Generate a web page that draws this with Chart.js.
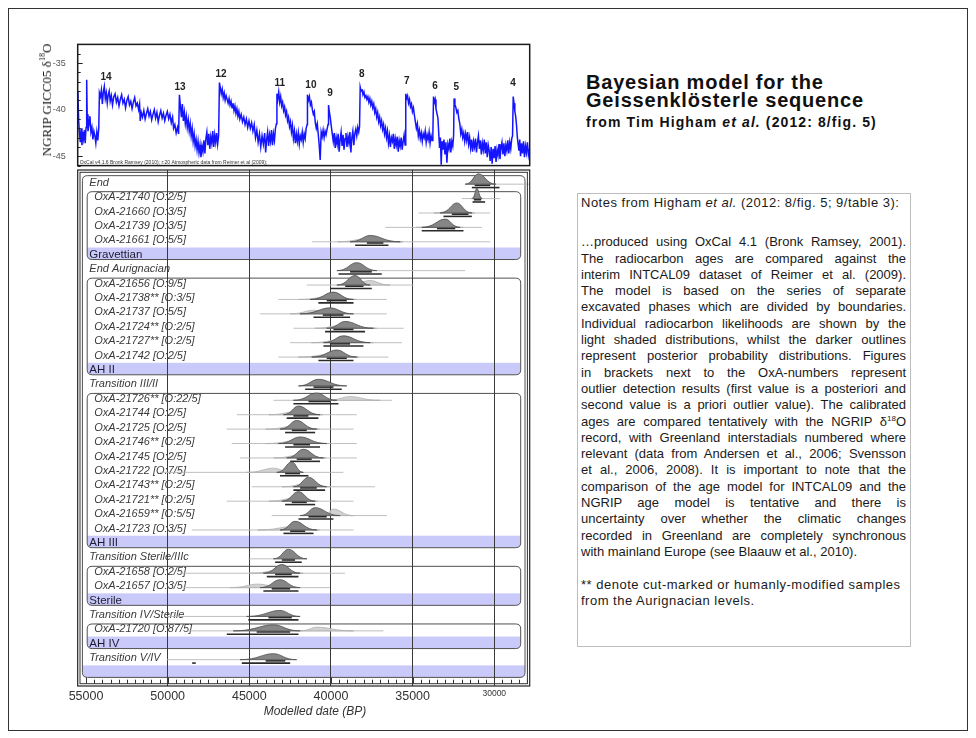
<!DOCTYPE html>
<html><head><meta charset="utf-8">
<script src="https://cdn.jsdelivr.net/npm/chart.js@4.4.1/dist/chart.umd.min.js"></script>
<style>
html,body{margin:0;padding:0;background:#fff;}
body{width:976px;height:738px;position:relative;overflow:hidden;font-family:"Liberation Sans",Arial,sans-serif;color:#111;}
#frame{position:absolute;left:8px;top:8px;width:960px;height:723px;border:1px solid #333;box-sizing:border-box;}
canvas{position:absolute;left:0;}
#cTop{top:35px;}
#cBot{top:165px;}
#ytitle{position:absolute;left:47px;top:100px;transform:translate(-50%,-50%) rotate(-90deg);font-family:"Liberation Serif","DejaVu Serif",serif;font-size:13px;white-space:nowrap;color:#111;}
#ytitle sup{font-size:8px;vertical-align:6px;line-height:0;}
.t{position:absolute;left:586px;font-weight:bold;white-space:nowrap;color:#111;}
#t1{top:72px;font-size:20px;line-height:20px;letter-spacing:0.8px;}
#t2{top:89.5px;font-size:20px;line-height:20px;letter-spacing:0.8px;}
#t3{top:115px;font-size:14px;line-height:14px;letter-spacing:1.1px;}
#notes{position:absolute;left:577px;top:193px;width:334px;height:454px;border:1px solid #bdbdbd;box-sizing:border-box;}
.n{position:absolute;left:581px;width:325px;font-size:13px;line-height:16.3px;white-space:nowrap;color:#1a1a1a;}
.j{text-align:justify;text-align-last:justify;}
.ls{letter-spacing:0.5px;}
.n sup{font-size:8px;vertical-align:5px;line-height:0;}
</style></head>
<body>
<div id="frame"></div>
<canvas id="cTop" width="540" height="140"></canvas>
<canvas id="cBot" width="540" height="565"></canvas>
<div id="ytitle">NGRIP GICC05 δ<sup>18</sup>O</div>
<div class="t" id="t1">Bayesian model for the</div>
<div class="t" id="t2">Geissenklösterle sequence</div>
<div class="t" id="t3">from Tim Higham <i>et al.</i> (2012: 8/fig. 5)</div>
<div id="notes"></div>
<script>
// ---------------- DATA ----------------
const X_MIN = 27830, X_MAX = 55510;
const xTickLabels = [55000, 50000, 45000, 40000, 35000, 30000];
const yTickLabels = [-35, -40, -45];

const ngripAge = [
55500,55450,55400,55350,55300,55250,55200,55150,55100,55050,
55000,54960,54930,54880,54820,54760,54700,54640,54580,54520,
54460,54400,54340,54280,54220,54180,54120,54060,54000,53940,
53880,53820,53760,53700,53640,53580,53520,53450,53380,53300,
53220,53140,53060,52980,52900,52820,52740,52660,52580,52500,
52420,52340,52260,52180,52100,52020,51940,51860,51780,51720,
51680,51620,51540,51460,51380,51300,51220,51140,51060,50980,
50900,50820,50740,50660,50580,50500,50420,50340,50260,50180,
50100,50020,49940,49860,49780,49700,49640,49560,49480,49400,
49330,49280,49220,49160,49100,49040,48980,48920,48860,48800,
48740,48680,48620,48560,48500,48440,48380,48320,48260,48200,
48140,48080,48020,47960,47900,47840,47780,47720,47660,47600,
47540,47480,47420,47360,47300,47240,47180,47120,47060,47000,
46940,46880,46830,46780,46720,46660,46600,46540,46480,46420,
46360,46300,46240,46180,46120,46060,46000,45940,45880,45820,
45760,45700,45640,45580,45500,45420,45340,45260,45180,45100,
45020,44940,44860,44780,44700,44620,44540,44460,44380,44300,
44220,44140,44060,44000,43940,43880,43820,43760,43700,43640,
43580,43520,43460,43400,43340,43310,43260,43200,43140,43080,
43020,42960,42900,42840,42780,42720,42660,42600,42540,42480,
42420,42360,42300,42240,42180,42120,42060,42000,41940,41880,
41820,41760,41700,41640,41580,41520,41460,41440,41380,41320,
41260,41200,41140,41080,41020,40960,40900,40840,40780,40720,
40660,40600,40540,40480,40420,40360,40300,40240,40180,40150,
40100,40040,39980,39920,39860,39800,39740,39680,39620,39560,
39500,39440,39380,39320,39260,39200,39140,39080,39020,38960,
38900,38840,38780,38720,38660,38600,38540,38480,38420,38360,
38300,38250,38210,38160,38100,38040,37980,37920,37860,37800,
37740,37680,37620,37560,37500,37440,37380,37320,37260,37200,
37140,37080,37020,36960,36900,36840,36780,36720,36660,36600,
36540,36480,36420,36360,36300,36240,36180,36120,36060,36000,
35940,35880,35820,35760,35700,35640,35580,35520,35460,35420,
35370,35310,35250,35190,35130,35070,35010,34950,34890,34830,
34770,34710,34650,34590,34530,34470,34410,34350,34290,34230,
34170,34110,34050,33990,33930,33870,33810,33760,33720,33670,
33620,33570,33510,33450,33400,33350,33300,33250,33200,33140,
33080,33020,32960,32900,32840,32780,32720,32660,32600,32540,
32490,32460,32410,32350,32290,32230,32170,32110,32050,31990,
31930,31870,31810,31750,31690,31630,31570,31510,31450,31390,
31330,31270,31210,31150,31090,31030,30970,30910,30850,30790,
30730,30670,30610,30550,30490,30430,30370,30310,30250,30190,
30130,30070,30010,29950,29890,29830,29770,29710,29650,29590,
29530,29470,29410,29350,29290,29230,29170,29110,29050,28990,
28930,28880,28840,28790,28740,28690,28640,28590,28540,28490,
28440,28390,28330,28270,28210,28150,28090,28030,27970,27910,
27860];
const ngripVal = [
-38.0,-41.2,-42.6,-43.5,-42.0,-43.8,-42.4,-43.1,-42.2,-43.6,
-41.9,-36.8,-40.5,-42.3,-41.6,-40.7,-42.4,-41.9,-43.2,-42.3,
-42.8,-43.6,-42.4,-43.3,-42.0,-38.2,-38.6,-37.9,-39.4,-38.1,
-37.5,-38.8,-38.2,-39.3,-38.4,-38.0,-39.1,-38.5,-39.5,-38.6,
-38.3,-39.2,-38.7,-39.6,-38.9,-38.4,-39.3,-38.9,-39.8,-39.0,
-38.6,-39.5,-39.1,-39.9,-39.2,-38.7,-39.6,-39.3,-40.0,-39.4,
-41.2,-40.3,-40.8,-40.1,-41.0,-40.4,-39.9,-40.7,-40.2,-41.1,
-40.5,-40.0,-40.9,-40.3,-41.3,-40.6,-40.1,-40.9,-40.4,-41.2,
-40.6,-40.2,-41.0,-40.5,-41.4,-40.8,-42.0,-41.6,-42.5,-41.9,
-42.6,-38.4,-39.6,-40.8,-39.4,-41.2,-40.3,-41.5,-40.7,-41.9,
-41.1,-42.3,-41.5,-42.8,-42.0,-43.4,-42.6,-43.9,-43.2,-44.3,
-43.4,-44.6,-43.8,-45.1,-43.9,-44.5,-43.3,-44.7,-43.1,-42.4,
-43.8,-42.6,-44.2,-42.9,-43.6,-42.3,-44.0,-42.7,-43.5,-42.5,
-43.7,-42.8,-37.1,-37.6,-38.3,-37.8,-38.7,-38.2,-39.0,-38.5,
-38.9,-39.3,-38.8,-39.5,-39.1,-39.8,-39.3,-40.1,-39.6,-40.4,
-39.9,-40.7,-40.2,-41.0,-40.5,-41.3,-40.8,-41.6,-41.0,-41.9,
-41.2,-42.0,-41.4,-42.3,-41.6,-43.0,-42.2,-43.5,-42.6,-44.0,
-42.8,-43.7,-42.5,-44.6,-43.2,-42.4,-43.9,-42.7,-43.4,-42.2,
-43.8,-42.6,-43.3,-42.0,-41.5,-38.3,-38.9,-38.1,-39.2,-38.6,
-39.6,-39.2,-40.1,-39.7,-40.6,-40.2,-41.2,-40.8,-41.8,-41.3,
-42.4,-41.7,-43.1,-42.3,-43.6,-42.6,-43.4,-42.5,-43.7,-42.8,
-43.2,-42.4,-43.5,-42.6,-43.1,-42.0,-41.6,-38.4,-39.0,-38.6,
-39.5,-39.2,-40.0,-40.5,-40.2,-41.4,-42.0,-41.5,-42.6,-43.8,
-45.4,-42.4,-42.9,-42.2,-43.0,-42.3,-42.7,-42.1,-41.6,-39.5,
-40.2,-40.9,-41.8,-42.6,-43.4,-42.5,-44.1,-43.0,-43.7,-42.6,
-44.5,-43.2,-42.4,-43.9,-42.7,-44.3,-43.1,-42.5,-44.0,-42.9,
-43.6,-42.4,-44.6,-43.0,-42.3,-43.8,-42.6,-42.1,-42.8,-41.9,
-42.4,-41.8,-37.6,-38.0,-37.8,-38.4,-38.1,-38.7,-38.5,-38.9,
-38.6,-39.2,-38.8,-39.5,-39.1,-39.8,-39.4,-40.3,-39.9,-40.8,
-40.3,-41.3,-40.8,-41.7,-41.2,-42.1,-41.6,-42.6,-42.0,-43.0,
-42.3,-43.6,-42.8,-44.0,-43.0,-43.4,-42.6,-44.2,-43.1,-43.8,
-42.9,-44.5,-43.3,-43.9,-43.0,-44.3,-43.4,-42.7,-43.8,-38.3,
-38.8,-38.5,-39.3,-38.9,-39.7,-39.4,-40.2,-39.8,-40.6,-41.3,
-42.0,-41.5,-42.8,-42.2,-43.1,-42.5,-43.4,-42.6,-43.0,-42.3,
-43.5,-42.7,-43.2,-42.4,-43.6,-42.8,-43.3,-42.6,-38.6,-39.2,
-38.9,-39.9,-40.4,-40.9,-42.5,-44.1,-43.0,-45.9,-43.4,-44.3,
-43.2,-44.8,-43.5,-45.7,-43.7,-44.2,-43.1,-44.6,-43.4,-43.9,
-42.8,-38.8,-39.4,-39.8,-40.3,-40.1,-41.0,-41.5,-42.6,-42.1,
-43.0,-42.5,-43.4,-42.6,-43.3,-42.4,-43.7,-43.0,-44.1,-43.2,
-44.5,-43.4,-44.0,-43.1,-44.6,-43.5,-42.8,-44.2,-43.3,-44.8,
-43.6,-44.3,-43.2,-44.7,-43.5,-45.1,-43.8,-44.4,-45.5,-44.0,
-45.8,-44.2,-45.2,-43.9,-45.6,-44.3,-44.9,-43.7,-45.3,-44.1,
-43.5,-44.8,-43.6,-45.0,-43.8,-44.4,-43.3,-44.7,-43.5,-44.2,
-43.1,-42.8,-38.6,-39.3,-40.2,-40.7,-41.6,-42.9,-43.7,-44.4,
-43.2,-45.0,-43.6,-44.7,-43.4,-45.1,-43.9,-44.6,-43.5,-44.8,
-44.2];

const isNum = ['14','13','12','11','10','9','8','7','6','5','4'];
const isAge = [53775,49240,46730,43130,41230,40050,38110,35350,33635,32330,28855];
const isVal = [-36.5,-37.6,-36.25,-37.2,-37.4,-38.2,-36.25,-37.0,-37.5,-37.6,-37.2];

const rowLabels = ['End','OxA-21740 [O:2/5]','OxA-21660 [O:3/5]','OxA-21739 [O:3/5]','OxA-21661 [O:5/5]','Gravettian',
'End Aurignacian','OxA-21656 [O:9/5]','OxA-21738** [O:3/5]','OxA-21737 [O:5/5]','OxA-21724** [O:2/5]','OxA-21727** [O:2/5]','OxA-21742 [O:2/5]','AH II',
'Transition III/II','OxA-21726** [O:22/5]','OxA-21744 [O:2/5]','OxA-21725 [O:2/5]','OxA-21746** [O:2/5]','OxA-21745 [O:2/5]','OxA-21722 [O:7/5]','OxA-21743** [O:2/5]','OxA-21721** [O:2/5]','OxA-21659** [O:5/5]','OxA-21723 [O:3/5]','AH III',
'Transition Sterile/IIIc','OxA-21658 [O:2/5]','OxA-21657 [O:3/5]','Sterile',
'Transition IV/Sterile','OxA-21720 [O:87/5]','AH IV',
'Transition V/IV',''];
// b = boundary, d = date, p = phase
const rowTypes = ['b','d','d','d','d','p','b','d','d','d','d','d','d','p','b','d','d','d','d','d','d','d','d','d','d','p','b','d','d','p','b','d','p','b','p'];

const postLo   = [31780,31330,33310,34440,38830,null,39640,39640,41280,41890,40260,40460,41180,null,41990,42300,42910,43120,43220,42710,43320,42300,43010,41890,43120,null,43520,44140,44340,null,45160,45980,null,45570,null];
const postPeak = [30970,31068,32290,33000,37600,null,38420,38520,39850,40050,39130,39240,39640,null,40770,40870,41990,42090,41890,41690,42400,41380,41990,40970,42200,null,42610,43010,43120,null,43120,43520,null,43520,null];
const postHi   = [29900,30760,31370,32090,35760,null,37190,37600,38620,38620,37400,37600,38420,null,39030,39640,40670,40870,40260,40460,41690,40260,40970,39440,40870,null,41480,41890,41890,null,41890,41890,null,42100,null];

const likLo   = [null,31450,33700,34800,39600,null,null,39050,42000,42500,41000,41200,42000,null,null,40260,43800,44000,44000,43500,45160,43000,43800,40460,44500,null,null,45000,46180,null,null,41890,null,null,null];
const likPeak = [null,31068,32290,33000,37700,null,null,37600,39900,41070,39200,39300,39800,null,null,38830,42000,42100,41900,41700,43520,41300,42000,39850,42300,null,null,43000,44500,null,null,40870,null,null,null];
const likHi   = [null,30650,31200,31900,35600,null,null,36380,38400,39200,37200,37400,38300,null,null,36990,40500,40700,40100,40300,42300,40000,40800,38620,40700,null,null,41700,42700,null,null,38620,null,null,null];

const tailLo = [31780,31990,34640,36680,41170,null,37190,41480,43220,44340,42300,42500,43220,null,null,43520,45770,46380,46080,45570,50470,44850,46380,43630,48530,null,45060,49240,49040,null,50060,48830,null,50060,null];
const tailHi = [27830,29640,30250,30760,30250,null,31780,34950,36580,36580,35550,35660,36480,null,null,36270,38420,38620,38420,38420,39240,37300,38620,36580,38620,null,41480,39140,40050,null,41890,36790,null,45570,null];

const range95Lo = [31370,31330,33110,34440,38520,null,39540,40050,40770,41070,40360,40460,40770,null,41580,42300,42710,42810,42810,42500,43120,42300,42810,41990,42910,null,43420,43930,44140,null,45060,46380,null,45460,null];
const range95Hi = [29680,30560,31375,31885,36480,null,36890,37500,38620,38830,37910,38010,38620,null,39340,39540,40770,40970,40670,40670,41380,40360,40970,39850,41070,null,41790,41990,41990,null,41990,41990,null,42500,null];
const range68Lo = [31200,31250,32600,33510,37800,null,38830,39130,40260,40500,39850,40050,40260,null,41070,41380,42300,42400,42300,42100,42810,41890,42400,41380,42500,null,43010,43420,43630,null,43830,44550,null,44000,null];
const range68Hi = [30250,30800,31580,32390,36790,null,37500,38010,39030,39240,38620,38830,39030,null,39850,40050,41380,41480,41280,41180,41890,40870,41480,40260,41580,null,42200,42400,42500,null,42400,42500,null,42800,null];
const extraRow = [33], extraLo = [48500], extraHi = [48280];

const notesHead = 'Notes from Higham <i>et al.</i> (2012: 8/fig. 5; 9/table 3):';
const notesLines = [
'…produced using OxCal 4.1 (Bronk Ramsey, 2001).',
'The radiocarbon ages are compared against the',
'interim INTCAL09 dataset of Reimer et al. (2009).',
'The model is based on the series of separate',
'excavated phases which are divided by boundaries.',
'Individual radiocarbon likelihoods are shown by the',
'light shaded distributions, whilst the darker outlines',
'represent posterior probability distributions. Figures',
'in brackets next to the OxA-numbers represent',
'outlier detection results (first value is a posteriori and',
'second value is a priori outlier value). The calibrated',
'ages are compared tentatively with the NGRIP δ<sup>18</sup>O',
'record, with Greenland interstadials numbered where',
'relevant (data from Andersen et al., 2006; Svensson',
'et al., 2006, 2008). It is important to note that the',
'comparison of the age model for INTCAL09 and the',
'NGRIP age model is tentative and there is',
'uncertainty over whether the climatic changes',
'recorded in Greenland are completely synchronous',
'with mainland Europe (see Blaauw et al., 2010).'];
const notesFoot = ['** denote cut-marked or humanly-modified samples','from the Aurignacian levels.'];

// ---------------- NOTES TEXT ----------------
(function(){
  const host = document.body;
  function add(html, top, cls){ const d=document.createElement('div'); d.className='n '+cls; d.style.top=top+'px'; d.innerHTML=html; host.appendChild(d); }
  add(notesHead, 195.3, 'ls');
  notesLines.forEach((l,i)=> add(l, 234.2 + i*16.3, i<notesLines.length-1 ? 'j' : ''));
  notesFoot.forEach((l,i)=> add(l, 576.8 + i*16.3, 'ls'));
})();

const FONT = '"Liberation Sans", Arial, sans-serif';

// ---------------- TOP CHART (NGRIP) ----------------
const topPlugin = {
  id:'topDeco',
  afterDraw(chart){
    const {ctx, chartArea:a, scales:{x,y}} = chart;
    ctx.save();
    ctx.strokeStyle='#222'; ctx.lineWidth=1;
    y.ticks.forEach(t=>{
      const py = Math.round(y.getPixelForValue(t.value))+0.5;
      const len = yTickLabels.includes(t.value) ? 5 : 3;
      ctx.beginPath(); ctx.moveTo(a.left, py); ctx.lineTo(a.left+len, py); ctx.stroke();
    });
    ctx.strokeStyle='#1a1a1a'; ctx.lineWidth=1.5;
    ctx.strokeRect(a.left, a.top, a.width, a.height);
    ctx.fillStyle='#222'; ctx.font='bold 10px '+FONT; ctx.textAlign='center'; ctx.textBaseline='middle';
    isNum.forEach((n,i)=> ctx.fillText(n, x.getPixelForValue(isAge[i]), y.getPixelForValue(isVal[i])));
    ctx.font='5px '+FONT; ctx.textAlign='left'; ctx.textBaseline='alphabetic'; ctx.fillStyle='#333';
    ctx.fillText('OxCal v4.1.6 Bronk Ramsey (2010); r:20 Atmospheric data from Reimer et al (2009);', a.left+2, a.bottom-1.5);
    ctx.restore();
  }
};

new Chart(document.getElementById('cTop'), {
  type:'line',
  data:{datasets:[{data: ngripAge.map((a,i)=>({x:a, y:ngripVal[i]})), borderColor:'#1414ff', borderWidth:1.5, pointRadius:0, tension:0, fill:false}]},
  options:{
    responsive:false, animation:false, events:[],
    plugins:{legend:{display:false}, tooltip:{enabled:false}},
    layout:{padding:{top:8, right:10.3, bottom:7, left:0}},
    scales:{
      x:{type:'linear', min:X_MIN, max:X_MAX, reverse:true, display:false},
      y:{type:'linear', min:-46, max:-33, afterFit:s=>{s.width=77.7;},
         grid:{display:false}, border:{display:false},
         ticks:{stepSize:1, autoSkip:false, padding:4, color:'#555', font:{size:9, family:FONT},
                callback:v=> yTickLabels.includes(v) ? String(v) : ''}}
    }
  },
  plugins:[topPlugin]
});

// ---------------- BOTTOM CHART (OxCal model) ----------------
const BAND = 'rgb(202,202,250)';
function roundPath(ctx,l,t,r,b,rad){
  ctx.beginPath();
  ctx.moveTo(l+rad,t); ctx.lineTo(r-rad,t); ctx.quadraticCurveTo(r,t,r,t+rad);
  ctx.lineTo(r,b-rad); ctx.quadraticCurveTo(r,b,r-rad,b);
  ctx.lineTo(l+rad,b); ctx.quadraticCurveTo(l,b,l,b-rad);
  ctx.lineTo(l,t+rad); ctx.quadraticCurveTo(l,t,l+rad,t); ctx.closePath();
}
function drawBox(ctx,l,r,t,b,bandTop){
  ctx.save();
  roundPath(ctx,l,t,r,b,5);
  ctx.clip();
  ctx.fillStyle=BAND; ctx.fillRect(l,bandTop,r-l,b-bandTop);
  ctx.restore();
  roundPath(ctx,l,t,r,b,5);
  ctx.strokeStyle='#505050'; ctx.lineWidth=1; ctx.stroke();
}
function hump(ctx, xl, xp, xr, yb, h, fill, stroke){
  const dl=xp-xl, dr=xr-xp;
  ctx.beginPath();
  ctx.moveTo(xl, yb);
  ctx.bezierCurveTo(xl+dl*0.55, yb, xp-dl*0.35, yb-h, xp, yb-h);
  ctx.bezierCurveTo(xp+dr*0.35, yb-h, xr-dr*0.55, yb, xr, yb);
  ctx.closePath();
  ctx.fillStyle=fill; ctx.fill();
  ctx.strokeStyle=stroke; ctx.lineWidth=0.8; ctx.stroke();
}
function clamp(v,a,b){return Math.max(a,Math.min(b,v));}

const oxcalPlugin = {
  id:'oxcal',
  beforeDraw(chart){
    const {ctx, chartArea:a, scales:{y}} = chart;
    const last = rowTypes.length-1;
    ctx.save();
    drawBox(ctx, a.left+4.7, a.right-4.7, y.getPixelForValue(0)-6, y.getPixelForValue(last)+5.8, y.getPixelForValue(last)-6.2);
    rowTypes.forEach((tp,p)=>{
      if (tp!=='p' || p===last) return;
      let s=p; while (s>0 && rowTypes[s-1]==='d') s--;
      drawBox(ctx, a.left+9.5, a.right-9, y.getPixelForValue(s)-4.4, y.getPixelForValue(p)+5.8, y.getPixelForValue(p)-6.2);
    });
    ctx.textBaseline='middle'; ctx.textAlign='left';
    rowLabels.forEach((lab,i)=>{
      const tp=rowTypes[i], yy=y.getPixelForValue(i)+1;
      if (tp==='p'){ ctx.font='11.5px '+FONT; ctx.fillStyle='#1c1c30'; ctx.fillText(lab, a.left+11.6, yy); }
      else if (tp==='b'){ ctx.font='italic 11px '+FONT; ctx.fillStyle='#3a3a3a'; ctx.fillText(lab, a.left+11.6, yy); }
      else { ctx.font='italic 11px '+FONT; ctx.fillStyle='#3a3a3a'; ctx.fillText(lab, a.left+16.6, yy); }
    });
    ctx.restore();
  },
  afterDatasetsDraw(chart){
    const {ctx, scales:{x,y}} = chart;
    ctx.save();
    rowTypes.forEach((tp,i)=>{
      if (postPeak[i]==null) return;
      const c=y.getPixelForValue(i), yb=c+2.5;
      if (tailLo[i]!=null){
        ctx.strokeStyle='#b8b8b8'; ctx.lineWidth=0.9;
        ctx.beginPath(); ctx.moveTo(x.getPixelForValue(tailLo[i]), yb); ctx.lineTo(x.getPixelForValue(tailHi[i]), yb); ctx.stroke();
      }
      if (likLo[i]!=null){
        const h=clamp(12000/(likLo[i]-likHi[i]),3.5,7);
        hump(ctx, x.getPixelForValue(likLo[i]), x.getPixelForValue(likPeak[i]), x.getPixelForValue(likHi[i]), yb, h, 'rgba(205,205,205,0.9)', '#b0b0b0');
      }
      const hp=clamp(19500/(postLo[i]-postHi[i]),6,10.5);
      hump(ctx, x.getPixelForValue(postLo[i]), x.getPixelForValue(postPeak[i]), x.getPixelForValue(postHi[i]), yb, hp, '#868686', '#4e4e4e');
      ctx.strokeStyle='#2a2a2a'; ctx.lineWidth=1.6;
      ctx.beginPath(); ctx.moveTo(x.getPixelForValue(range68Lo[i]), yb+1.2); ctx.lineTo(x.getPixelForValue(range68Hi[i]), yb+1.2); ctx.stroke();
      ctx.beginPath(); ctx.moveTo(x.getPixelForValue(range95Lo[i]), yb+3.4); ctx.lineTo(x.getPixelForValue(range95Hi[i]), yb+3.4); ctx.stroke();
    });
    extraRow.forEach((r,k)=>{
      const yb=y.getPixelForValue(r)+2.5;
      ctx.strokeStyle='#2a2a2a'; ctx.lineWidth=1.6;
      ctx.beginPath(); ctx.moveTo(x.getPixelForValue(extraLo[k]), yb+3.4); ctx.lineTo(x.getPixelForValue(extraHi[k]), yb+3.4); ctx.stroke();
    });
    ctx.restore();
  },
  afterDraw(chart){
    const {ctx, chartArea:a, scales:{x}} = chart;
    ctx.save();
    ctx.strokeStyle='#222'; ctx.lineWidth=1.2;
    ctx.strokeRect(a.left, a.top, a.width, a.height);
    ctx.lineWidth=1; ctx.strokeStyle='#333';
    ctx.strokeRect(a.left+2.3, a.top+2.3, a.width-4.6, a.height-4.6);
    x.ticks.forEach(t=>{
      const px=Math.round(x.getPixelForValue(t.value))+0.5;
      const len = xTickLabels.includes(t.value) ? 6 : 4;
      ctx.beginPath(); ctx.moveTo(px, a.bottom-2.3); ctx.lineTo(px, a.bottom-2.3-len); ctx.stroke();
    });
    ctx.fillStyle='#333'; ctx.font='italic 12px '+FONT; ctx.textAlign='center'; ctx.textBaseline='middle';
    ctx.fillText('Modelled date (BP)', 315, a.bottom+26);
    ctx.restore();
  }
};

new Chart(document.getElementById('cBot'), {
  type:'scatter',
  data:{datasets:[{data: postPeak.map((v,i)=> v==null ? null : ({x:v, y:i})).filter(d=>d), pointRadius:0}]},
  options:{
    responsive:false, animation:false, events:[],
    plugins:{legend:{display:false}, tooltip:{enabled:false}},
    layout:{padding:{top:5, right:10.3, bottom:0, left:77.7}},
    scales:{
      x:{type:'linear', min:X_MIN, max:X_MAX, reverse:true, afterFit:s=>{s.height=44;},
         afterBuildTicks:s=>{ const t=[]; for (let v=28000; v<=55000; v+=500) t.push({value:v}); s.ticks=t; },
         border:{display:false},
         grid:{drawTicks:false, lineWidth:1,
               color:ctx=> (ctx.tick && xTickLabels.includes(ctx.tick.value) && ctx.tick.value!==55000) ? '#3a3a3a' : 'rgba(0,0,0,0)'},
         ticks:{autoSkip:false, maxRotation:0, padding:3, color:'#333',
                font:ctx=>({size: (ctx.tick && ctx.tick.value===30000) ? 8.5 : 12.5, family:FONT}),
                callback:v=> xTickLabels.includes(v) ? String(v) : ''}},
      y:{type:'linear', min:-0.81, max:35.0, reverse:true, display:false}
    }
  },
  plugins:[oxcalPlugin]
});
</script>
</body></html>
